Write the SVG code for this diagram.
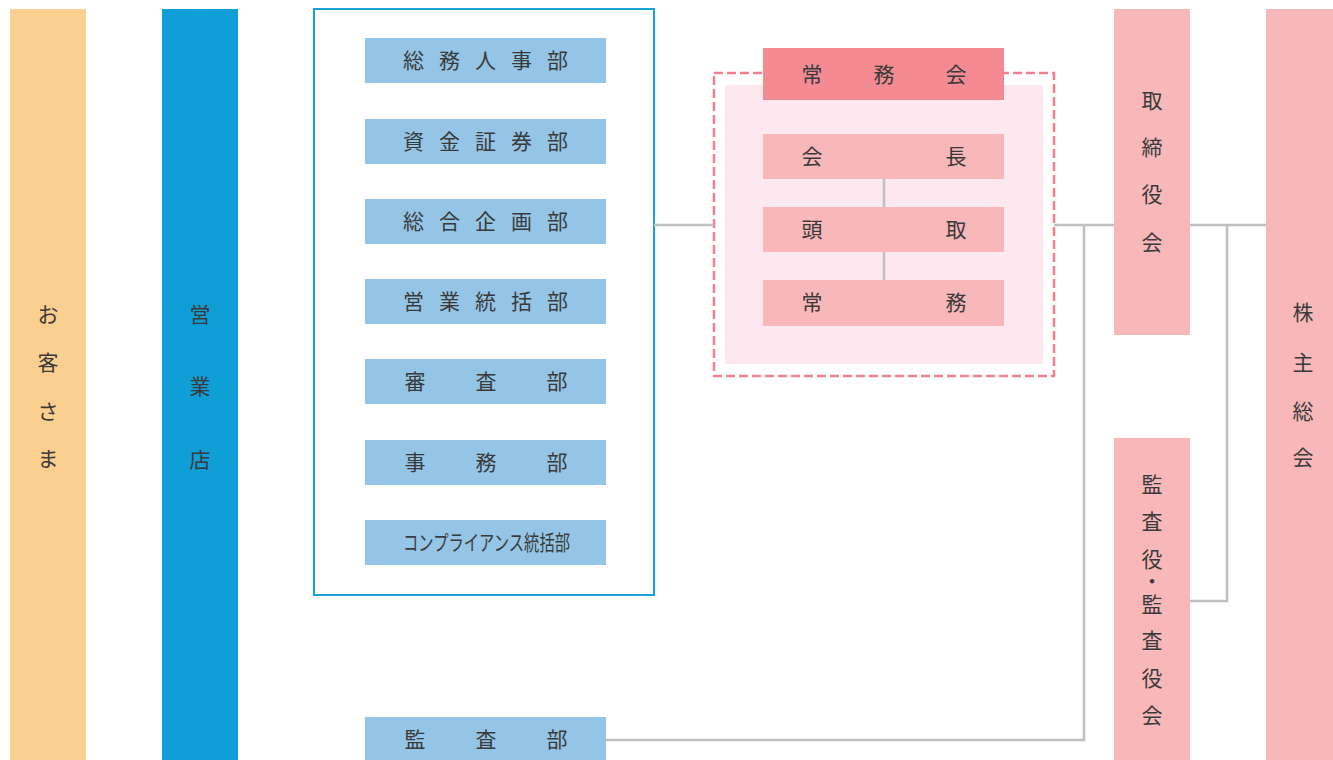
<svg xmlns="http://www.w3.org/2000/svg" width="1333" height="760" viewBox="0 0 1333 760">
<style>
text{font-family:"Noto Sans CJK JP","Noto Sans",sans-serif;font-size:21px;fill:#3a3a3a;text-anchor:middle}
.dept{fill:#94c5e6}
.exec{fill:#f8b8b9}
.conn{fill:none;stroke:#c0c0c4;stroke-width:2.5}
</style>
<rect width="1333" height="760" fill="#ffffff"/>
<g id="customers">
<rect x="10" y="9" width="76" height="751" fill="#fbcf8f"/>
<text x="48 48 48 48" y="322 370 419 466">お客さま</text>
</g>
<g id="branches">
<rect x="162" y="9" width="76" height="751" fill="#0f9ed5"/>
<text x="200 200 200" y="322 394 467">営業店</text>
</g>
<g id="headquarters">
<rect x="314" y="9" width="340" height="586" fill="none" stroke="#1ba1da" stroke-width="2"/>
</g>
<g id="soumu-jinji">
<rect class="dept" x="365" y="38" width="241" height="45"/>
<text x="413.5 449.5 485.5 521.5 557.5" y="68">総務人事部</text>
</g>
<g id="shikin-shouken">
<rect class="dept" x="365" y="119" width="241" height="45"/>
<text x="413.5 449.5 485.5 521.5 557.5" y="149">資金証券部</text>
</g>
<g id="sougou-kikaku">
<rect class="dept" x="365" y="199" width="241" height="45"/>
<text x="413.5 449.5 485.5 521.5 557.5" y="229">総合企画部</text>
</g>
<g id="eigyou-toukatsu">
<rect class="dept" x="365" y="279" width="241" height="45"/>
<text x="413.5 449.5 485.5 521.5 557.5" y="309">営業統括部</text>
</g>
<g id="shinsa">
<rect class="dept" x="365" y="359" width="241" height="45"/>
<text x="415 486 557" y="389">審査部</text>
</g>
<g id="jimu">
<rect class="dept" x="365" y="440" width="241" height="45"/>
<text x="415 486 557" y="470">事務部</text>
</g>
<g id="compliance">
<rect class="dept" x="365" y="520" width="241" height="45"/>
<text x="486.5" y="550" textLength="167" lengthAdjust="spacingAndGlyphs">コンプライアンス統括部</text>
</g>
<g id="kansa">
<rect class="dept" x="365" y="717" width="241" height="43"/>
<text x="415 486 557" y="747">監査部</text>
</g>
<g id="executive-committee">
<rect x="714" y="73" width="340" height="303" fill="none" stroke="#f47f8e" stroke-width="2.5" stroke-dasharray="9 4"/>
<rect x="725" y="85" width="318" height="279" fill="#fde8ef"/>
<rect x="763" y="48" width="241" height="52" fill="#f48a92"/>
<text x="812 884 956" y="82">常務会</text>
</g>
<g id="connectors">
<path class="conn" d="M654 225H714"/>
<path class="conn" d="M884 179V207M884 252V280"/>
<path class="conn" d="M1054 225H1114"/>
<path class="conn" d="M1189 225H1266"/>
<path class="conn" d="M1227 225V601H1189"/>
<path class="conn" d="M1084 225V740H606"/>
</g>
<g id="chairman">
<rect class="exec" x="763" y="134" width="241" height="45"/>
<text x="812 956" y="164">会長</text>
</g>
<g id="president">
<rect class="exec" x="763" y="207" width="241" height="45"/>
<text x="812 956" y="237">頭取</text>
</g>
<g id="managing-director">
<rect class="exec" x="763" y="280" width="241" height="46"/>
<text x="812 956" y="310">常務</text>
</g>
<g id="board">
<rect class="exec" x="1114" y="9" width="76" height="326"/>
<text x="1152 1152 1152 1152" y="108 155 202 250">取締役会</text>
</g>
<g id="auditors">
<rect class="exec" x="1114" y="438" width="76" height="322"/>
<text x="1152 1152 1152 1152 1152 1152 1152 1152" y="492 529 567 589 612 648 686 723">監査役・監査役会</text>
</g>
<g id="shareholders">
<rect class="exec" x="1266" y="9" width="74" height="751"/>
<text x="1303 1303 1303 1303" y="320 370 419 465">株主総会</text>
</g>
</svg>
